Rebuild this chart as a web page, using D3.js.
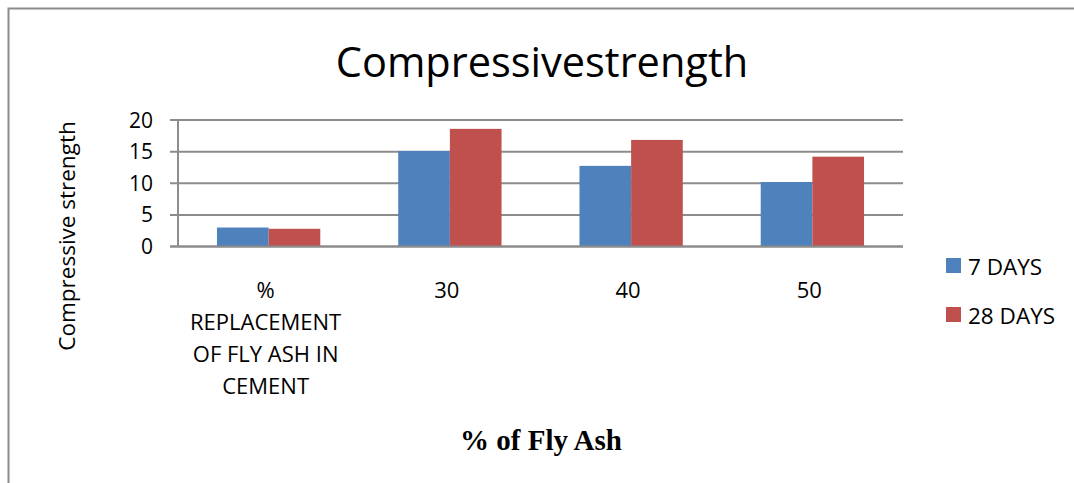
<!DOCTYPE html>
<html><head><meta charset="utf-8">
<script src="https://cdn.jsdelivr.net/npm/d3@7"></script>
<style>body{margin:0;background:#fff;overflow:hidden;} svg{display:block;}</style>
</head><body>
<svg id="c" width="1074" height="483"></svg>
<script>
const categories = ["% REPLACEMENT OF FLY ASH IN CEMENT", "30", "40", "50"];
const categoryLines = [["%", "REPLACEMENT", "OF FLY ASH IN", "CEMENT"], ["30"], ["40"], ["50"]];
const seriesNames = ["7 DAYS", "28 DAYS"];
const days7 = [3.0, 15.1, 12.75, 10.2];
const days28 = [2.8, 18.6, 16.85, 14.2];
const yTicks = [0, 5, 10, 15, 20];
const colors = ["#4F81BD", "#C0504D"];

const font = "'Open Sans', sans-serif";
const svg = d3.select("#c");
// outer frame
svg.append("rect").attr("x", 8.5).attr("y", 8.5).attr("width", 1100).attr("height", 500)
  .attr("fill", "none").attr("stroke", "#8c8c8c").attr("stroke-width", 2);

const L = 178, R = 903, T = 120, B = 246.5;
const x = d3.scaleBand().domain(categories).range([L, R]).paddingInner(0.43).paddingOuter(0.215);
const xs = d3.scaleBand().domain(seriesNames).range([0, x.bandwidth()]);
const y = d3.scaleLinear().domain([0, 20]).range([B, T]);

// gridlines
svg.append("g").selectAll("line").data(yTicks).join("line")
  .attr("x1", L - 8).attr("x2", R).attr("y1", d => y(d)).attr("y2", d => y(d))
  .attr("stroke", "#8c8c8c").attr("stroke-width", 2);
// y axis line
svg.append("line").attr("x1", L).attr("x2", L).attr("y1", T).attr("y2", B)
  .attr("stroke", "#8c8c8c").attr("stroke-width", 2);

// bars
const data = categories.map((c, i) => ({c, vals: [days7[i], days28[i]]}));
const g = svg.append("g").selectAll("g").data(data).join("g")
  .attr("transform", d => `translate(${x(d.c)},0)`);
g.selectAll("rect").data(d => d.vals.map((v, j) => ({v, s: seriesNames[j], j}))).join("rect")
  .attr("x", d => xs(d.s)).attr("width", xs.bandwidth())
  .attr("y", d => y(d.v)).attr("height", d => B - y(d.v))
  .attr("fill", d => colors[d.j]);

// bottom axis line over bars
svg.append("line").attr("x1", L - 8).attr("x2", R).attr("y1", B).attr("y2", B)
  .attr("stroke", "#8c8c8c").attr("stroke-width", 2);

// y tick labels
svg.append("g").selectAll("text").data(yTicks).join("text")
  .attr("x", 153).attr("y", d => y(d)).attr("dy", "0.36em")
  .attr("text-anchor", "end").attr("font-family", font).attr("font-size", 21)
  .text(d => d);

// x labels
const xl = svg.append("g").selectAll("text").data(categories.map((c, i) => ({c, lines: categoryLines[i]}))).join("text")
  .attr("font-family", font).attr("font-size", 22).attr("text-anchor", "middle");
xl.selectAll("tspan").data(d => d.lines.map(l => ({l, c: d.c}))).join("tspan")
  .attr("x", d => x(d.c) + x.bandwidth() / 2 - 3)
  .attr("y", (d, i) => 298 + i * 32)
  .text(d => d.l);

// title
svg.append("text").attr("x", 542).attr("y", 77).attr("text-anchor", "middle")
  .attr("font-family", font).attr("font-size", 41.5).text("Compressivestrength");

// y title
svg.append("text").attr("transform", "translate(75,236) rotate(-90)").attr("text-anchor", "middle")
  .attr("font-family", font).attr("font-size", 22.5).text("Compressive strength");

// x title
svg.append("text").attr("x", 541).attr("y", 450).attr("text-anchor", "middle")
  .attr("font-family", "'Liberation Serif', 'Times New Roman', serif").attr("font-weight", "bold")
  .attr("font-size", 29).text("% of Fly Ash");

// legend
const lg = svg.append("g").selectAll("g").data(seriesNames).join("g")
  .attr("transform", (d, i) => `translate(946,${258 + i * 49})`);
lg.append("rect").attr("width", 15).attr("height", 15).attr("fill", (d, i) => colors[i]);
lg.append("text").attr("x", 22).attr("y", 17)
  .attr("font-family", font).attr("font-size", 22.5).text(d => d);
</script>
</body></html>
